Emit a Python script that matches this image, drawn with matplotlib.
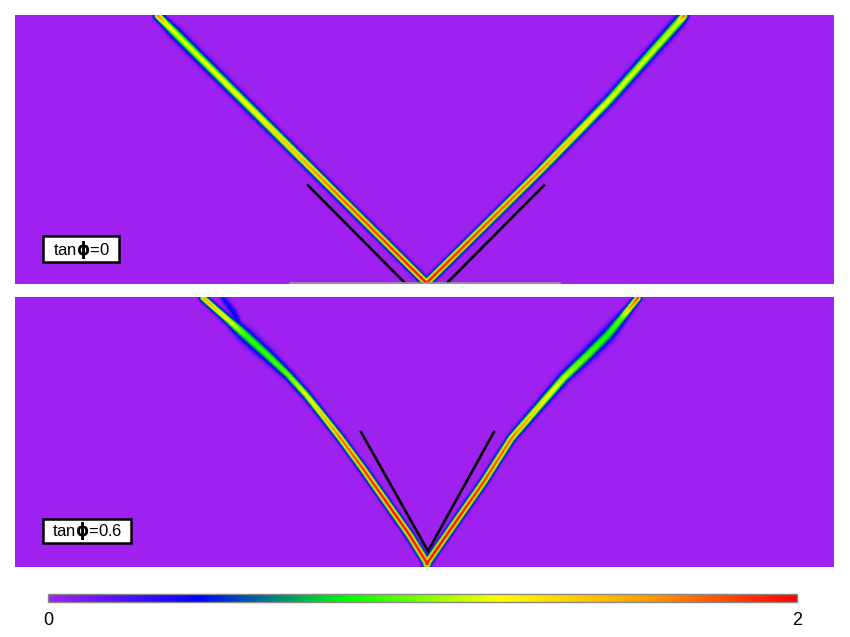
import numpy as np
import matplotlib
matplotlib.use('Agg')
import matplotlib.pyplot as plt
from matplotlib.colors import LinearSegmentedColormap
from matplotlib.patches import Rectangle

plt.rcParams['mathtext.fontset'] = 'dejavusans'

# ---------------- data (panel units: x 0..818, y 0..270) ----------------
panel_w, panel_h = 818, 270
labels = [r"tan$\mathbf{\phi}$=0", r"tan$\mathbf{\phi}$=0.6"]

# shear band centre lines, peak strain and half-width along each band
top_left_x = [143, 150, 161, 248, 325, 410]
top_left_y = [269, 262, 251, 164, 87, 2]
top_left_v = [1.7, 1.35, 1.15, 1.35, 1.8, 2.0]
top_left_w = [3.5, 4.0, 4.8, 4.2, 3.4, 3.2]

top_right_x = [668, 662, 593, 525, 412]
top_right_y = [269, 262, 184, 114, 2]
top_right_v = [1.75, 1.15, 1.2, 1.7, 2.0]
top_right_w = [3.5, 4.8, 4.5, 3.4, 3.2]

bot_left_x = [188, 213, 230, 252, 273, 291, 307, 325, 347, 373, 394, 412]
bot_left_y = [269, 247, 232, 212, 192, 172, 152, 129, 99, 62, 32, 3]
bot_left_v = [1.6, 1.3, 0.9, 0.9, 1.0, 1.25, 1.5, 1.75, 1.9, 2.0, 2.0, 2.0]
bot_left_w = [3.0, 3.6, 6.0, 5.5, 4.2, 3.6, 3.3, 3.2, 3.2, 3.2, 3.2, 3.2]

bot_spur_x = [208, 218, 225]
bot_spur_y = [269, 255, 242]
bot_spur_v = [0.35, 0.4, 0.35]
bot_spur_w = [3.0, 3.5, 3.0]

bot_right_x = [411, 438, 468, 496, 522, 548, 572, 592, 606, 614, 622]
bot_right_y = [3, 42, 85, 129, 159, 189, 212, 232, 249, 259, 269]
bot_right_v = [2.0, 2.0, 1.9, 1.75, 1.4, 1.15, 0.95, 0.85, 1.0, 1.6, 1.9]
bot_right_w = [3.2, 3.2, 3.2, 3.3, 3.8, 4.6, 5.5, 6.0, 4.5, 3.2, 3.0]

# reference (black) lines
top_ref_left_x, top_ref_left_y = [292, 390], [100, 1]
top_ref_right_x, top_ref_right_y = [432, 530], [1, 100]
bot_ref_x, bot_ref_y = [346, 413, 479], [135, 16, 135]

cbar_ticks = [0, 2]

# ---------------- colormap ----------------
cmap = LinearSegmentedColormap.from_list(
    "strain",
    [(0.0, (0.62, 0.13, 0.94)),
     (0.2, (0.0, 0.0, 1.0)),
     (0.4, (0.0, 1.0, 0.0)),
     (0.6, (1.0, 1.0, 0.0)),
     (0.8, (1.0, 0.62, 0.0)),
     (1.0, (1.0, 0.0, 0.0))])


def band_field(X, Y, xs, ys, vs, ws):
    field = np.zeros_like(X)
    for i in range(len(xs) - 1):
        ax_, ay_, bx_, by_ = xs[i], ys[i], xs[i + 1], ys[i + 1]
        dx, dy = bx_ - ax_, by_ - ay_
        t = np.clip(((X - ax_) * dx + (Y - ay_) * dy) / (dx * dx + dy * dy), 0, 1)
        d = np.hypot(X - (ax_ + t * dx), Y - (ay_ + t * dy))
        v = vs[i] + t * (vs[i + 1] - vs[i])
        w = ws[i] + t * (ws[i + 1] - ws[i])
        field = np.maximum(field, v * np.exp(-(d / w) ** 2))
    return field


xg = np.arange(panel_w) + 0.5
yg = np.arange(panel_h) + 0.5
X, Y = np.meshgrid(xg, yg)

top_field = np.maximum(
    band_field(X, Y, top_left_x, top_left_y, top_left_v, top_left_w),
    band_field(X, Y, top_right_x, top_right_y, top_right_v, top_right_w))
bot_field = np.maximum.reduce([
    band_field(X, Y, bot_left_x, bot_left_y, bot_left_v, bot_left_w),
    band_field(X, Y, bot_spur_x, bot_spur_y, bot_spur_v, bot_spur_w),
    band_field(X, Y, bot_right_x, bot_right_y, bot_right_v, bot_right_w)])

# ---------------- figure ----------------
fig = plt.figure(figsize=(8.5, 6.37), dpi=100)
fig.patch.set_facecolor('white')

ax_top = fig.add_axes([15 / 850, 1 - 284 / 637, 818 / 850, 269 / 637])
ax_bot = fig.add_axes([15 / 850, 1 - 567 / 637, 818 / 850, 270 / 637])

font = ['Liberation Sans', 'DejaVu Sans']

for ax, field in [(ax_top, top_field), (ax_bot, bot_field)]:
    im = ax.imshow(field, origin='lower', cmap=cmap, vmin=0, vmax=2,
                   extent=[0, panel_w, 0, panel_h], interpolation='bilinear',
                   aspect='auto')
    ax.set_xlim(0, panel_w)
    ax.set_ylim(0, panel_h)
    ax.set_axis_off()

ax_top.plot(top_ref_left_x, top_ref_left_y, color='black', lw=1.9, solid_capstyle='butt')
ax_top.plot(top_ref_right_x, top_ref_right_y, color='black', lw=1.9, solid_capstyle='butt')
ax_top.plot([275, 545], [0.6, 0.6], color='#9a9a9a', lw=1.2)
ax_bot.plot(bot_ref_x, bot_ref_y, color='black', lw=1.9, solid_joinstyle='miter')

# label boxes
ax_top.add_patch(Rectangle((28, 22), 76, 26, facecolor='white', edgecolor='black', lw=1.8, zorder=5))
ax_top.text(66, 34.5, labels[0], ha='center', va='center', fontsize=12, family=font, zorder=6)
ax_bot.add_patch(Rectangle((28, 24), 88, 24, facecolor='white', edgecolor='black', lw=1.8, zorder=5))
ax_bot.text(72, 35.5, labels[1], ha='center', va='center', fontsize=12, family=font, zorder=6)

# colorbar
cax = fig.add_axes([48 / 850, 1 - 602 / 637, 749 / 850, 8 / 637])
cb = fig.colorbar(im, cax=cax, orientation='horizontal', ticks=cbar_ticks)
cb.outline.set_edgecolor('#888888')
cb.outline.set_linewidth(1.0)
cax.tick_params(length=0, pad=7, labelsize=13)
cb.set_ticklabels([str(v) for v in cbar_ticks])
for t in cax.get_xticklabels():
    t.set_family(font)

fig.savefig('out.png', dpi=100, facecolor='white')
